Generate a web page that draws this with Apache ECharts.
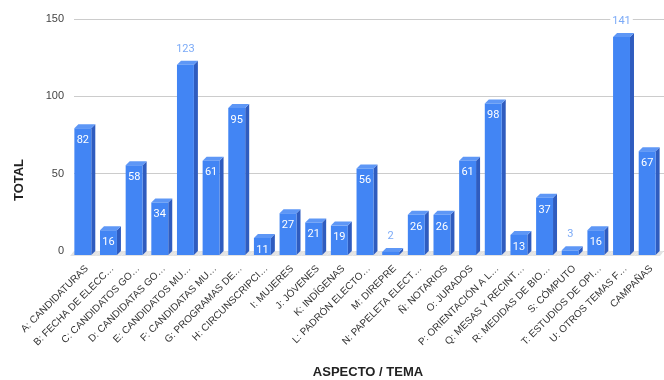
<!DOCTYPE html>
<html>
<head>
<meta charset="utf-8">
<script src="https://cdn.jsdelivr.net/npm/echarts@6/dist/echarts.min.js"></script>
<style>
html,body{margin:0;padding:0;background:#fff;}
#chart{width:664px;height:380px;}
</style>
</head>
<body>
<div id="chart"></div>
<script>
// categorias (eje X)
var categorias = ['A: CANDIDATURAS', 'B: FECHA DE ELECC…', 'C: CANDIDATOS GO…', 'D: CANDIDATAS GO…',
	'E: CANDIDATOS MU…', 'F: CANDIDATAS MU…', 'G: PROGRAMAS DE…', 'H: CIRCUNSCRIPCI…',
	'I: MUJERES', 'J: JÓVENES', 'K: INDÍGENAS', 'L: PADRÓN ELECTO…', 'M: DIREPRE',
	'N: PAPELETA ELECT…', 'Ñ: NOTARIOS', 'O: JURADOS', 'P: ORIENTACIÓN A L…',
	'Q: MESAS Y RECINT…', 'R: MEDIDAS DE BIO…', 'S: CÓMPUTO', 'T: ESTUDIOS DE OPI…',
	'U: OTROS TEMAS F…', 'CAMPAÑAS'];
// total por tema
var totales = [82, 16, 58, 34, 123, 61, 95, 11, 27, 21, 19, 56, 2, 26, 26, 61, 98, 13, 37, 3, 16, 141, 67];
// eje Y
var yMin = 0, yMax = 150, yPaso = 50;

var datos = [];
for (var i = 0; i < totales.length; i++) {
	datos.push([i, totales[i]]);
}

var chart = echarts.init(document.getElementById('chart'));

// barra con efecto 3D: cara frontal, lateral y superior
function barra3d(params, api) {
	var i = api.value(0), v = api.value(1);
	var arriba = api.coord([i, v]);
	var base = api.coord([i, 0]);
	var banda = api.size([1, 0])[0];
	var w = banda * 0.66, dx = 4, dy = 4;
	var bx = arriba[0] - w / 2, by = arriba[1];
	var fx = bx - dx, fy = by + dy;
	var fondo = base[1];
	var hijos = [
		{type: 'polygon', shape: {points: [[fx + w, fy], [bx + w, by], [bx + w, fondo], [fx + w, fondo + dy]]},
			style: {fill: '#2f5cbf'}},
		{type: 'polygon', shape: {points: [[fx, fy], [bx, by], [bx + w, by], [fx + w, fy]]},
			style: {fill: '#5e97f6'}},
		{type: 'rect', shape: {x: fx, y: fy, width: w, height: Math.max(fondo + dy - fy, 0)},
			style: {fill: '#4285f4'}}
	];
	var fuera = v > 110 || v < 5;
	hijos.push({
		type: 'text',
		style: {
			text: String(v),
			x: fx + w / 2,
			y: fuera ? by - 12 : fy + 12,
			align: 'center',
			verticalAlign: 'middle',
			fill: fuera ? '#7baaf7' : '#ffffff',
			font: '11px Roboto, Arial, sans-serif',
			backgroundColor: fuera ? '#ffffff' : null,
			padding: fuera ? [0, 2] : 0
		}
	});
	return {type: 'group', children: hijos};
}

// piso gris bajo las barras
function piso(params, api) {
	var i = api.value(0);
	var p = api.coord([i, 0]);
	var banda = api.size([1, 0])[0];
	var x0 = p[0] - banda / 2, x1 = p[0] + banda / 2;
	return {
		type: 'polygon',
		shape: {points: [[x0, p[1]], [x1, p[1]], [x1 - 4, p[1] + 5], [x0 - 4, p[1] + 5]]},
		style: {fill: '#e3e3e3'}
	};
}

var option = {
	animation: false,
	grid: {left: 74, right: -3, top: 19, bottom: 129},
	xAxis: {
		type: 'category',
		data: categorias,
		axisLine: {show: false},
		axisTick: {show: false},
		axisLabel: {
			interval: 0,
			rotate: 45,
			margin: 16,
			fontSize: 10,
			color: '#333',
			fontFamily: 'Arial'
		}
	},
	yAxis: {
		type: 'value',
		min: yMin,
		max: yMax,
		interval: yPaso,
		axisLine: {show: false},
		axisTick: {show: false},
		axisLabel: {fontSize: 11, color: '#444', margin: 10, fontFamily: 'Arial'},
		splitLine: {lineStyle: {color: '#cccccc'}}
	},
	series: [{
		type: 'custom',
		renderItem: piso,
		data: datos,
		z: 1,
		silent: true
	}, {
		type: 'custom',
		renderItem: barra3d,
		data: datos,
		z: 2
	}],
	graphic: [{
		type: 'text',
		x: 19,
		y: 180,
		rotation: Math.PI / 2,
		style: {text: 'TOTAL', font: 'bold 13px Arial', fill: '#222', align: 'center', verticalAlign: 'middle'}
	}, {
		type: 'text',
		x: 368,
		y: 372,
		style: {text: 'ASPECTO / TEMA', font: 'bold 13px Arial', fill: '#222', align: 'center', verticalAlign: 'middle'}
	}]
};
chart.setOption(option);
</script>
</body>
</html>
